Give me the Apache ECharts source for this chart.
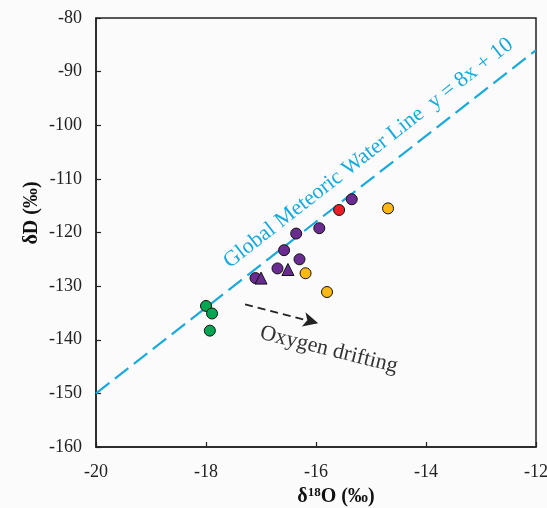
<!DOCTYPE html>
<html>
<head>
<meta charset="utf-8"/>
<title>δD vs δ18O</title>
<script src="https://cdn.jsdelivr.net/npm/echarts@6/dist/echarts.min.js"></script>
<style>
  html, body { margin: 0; padding: 0; background: #fbfbfb; }
  #main { width: 547px; height: 508px; }
</style>
</head>
<body>
<div id="main"></div>
<script type="text/javascript">
    // values
    var purpleX = [-15.35, -15.94, -16.36, -16.58, -16.30, -16.70, -17.10];
    var purpleY = [-113.8, -119.2, -120.2, -123.3, -125.0, -126.7, -128.5];
    var triangleX = [-16.51, -17.00];
    var triangleY = [-126.9, -128.5];
    var redX = [-15.58];
    var redY = [-115.8];
    var orangeX = [-14.69, -16.19, -15.80];
    var orangeY = [-115.5, -127.6, -131.1];
    var greenX = [-18.00, -17.89, -17.93];
    var greenY = [-133.7, -135.1, -138.3];
    // GMWL end points, y = 8x + 10
    var gmwlX = [-20, -12];
    var gmwlY = [-150, -86];
    // arrow "Oxygen drifting"
    var arrowX = [-17.29, -15.96];
    var arrowY = [-133.4, -136.9];

    var serif = 'Liberation Serif, Times New Roman, serif';

    var pairs = function (xs, ys) {
        return xs.map(function (x, i) { return [x, ys[i]]; });
    };
    var dotSeries = function (name, xs, ys, color, symbol, size) {
        return {
            name: name,
            type: 'scatter',
            symbol: symbol || 'circle',
            symbolSize: size || 11,
            data: pairs(xs, ys),
            itemStyle: { color: color, opacity: 1, borderColor: '#111', borderWidth: 1 },
            z: 5
        };
    };

    var myChart = echarts.init(document.getElementById('main'));
    var option = {
        backgroundColor: '#fbfbfb',
        animation: false,
        grid: {
            left: 96, right: 11, top: 18, bottom: 61,
            outerBoundsMode: 'none',
            show: true, borderColor: '#222', borderWidth: 1.5
        },
        xAxis: {
            type: 'value',
            min: -20, max: -12, interval: 2,
            name: '{a|δ}{s|18}{a|O (‰)}',
            nameLocation: 'middle',
            nameGap: 38,
            nameTextStyle: {
                padding: [0, 0, 0, 40],
                rich: {
                    a: { fontFamily: serif, fontSize: 20, fontWeight: 'bold', color: '#111', lineHeight: 22 },
                    s: { fontFamily: serif, fontSize: 13, fontWeight: 'bold', color: '#111', verticalAlign: 'top', lineHeight: 13 }
                }
            },
            axisLine: { lineStyle: { color: '#222', width: 1.5 } },
            axisTick: { inside: true, length: 5, lineStyle: { color: '#222', width: 1.2 } },
            axisLabel: { fontFamily: serif, fontSize: 18, color: '#222', margin: 16 },
            splitLine: { show: false }
        },
        yAxis: {
            type: 'value',
            min: -160, max: -80, interval: 10,
            axisLine: { show: true, lineStyle: { color: '#222', width: 1.5 } },
            axisTick: { show: true, inside: true, length: 5, lineStyle: { color: '#222', width: 1.2 } },
            axisLabel: { fontFamily: serif, fontSize: 18, color: '#222', margin: 14 },
            splitLine: { show: false }
        },
        graphic: [
            {
                type: 'text',
                x: 32, y: 213,
                rotation: Math.PI / 2,
                style: {
                    text: 'δD (‰)',
                    font: 'bold 20px ' + serif,
                    fill: '#111',
                    align: 'center',
                    verticalAlign: 'middle'
                }
            },
            {
                type: 'text',
                x: 263, y: 322,
                rotation: -14 * Math.PI / 180,
                style: {
                    text: 'Oxygen drifting',
                    font: '22px ' + serif,
                    fill: '#333'
                }
            }
        ],
        series: [
            {
                name: 'GMWL',
                type: 'line',
                data: pairs(gmwlX, gmwlY),
                symbol: 'none',
                lineStyle: { color: '#1aa9dc', width: 2.2, type: [17, 7] },
                markLine: {
                    silent: true,
                    symbol: ['none', 'none'],
                    lineStyle: { color: 'rgba(0,0,0,0)', width: 0 },
                    label: {
                        show: true,
                        position: 'insideEndTop',
                        distance: 11,
                        formatter: 'Global Meteoric Water Line  y = 8x + 10',
                        fontFamily: serif,
                        fontSize: 22,
                        color: '#1aa9dc',
                        padding: [0, 4, 0, 0]
                    },
                    data: [[{ coord: [gmwlX[0], gmwlY[0]] }, { coord: [gmwlX[1], gmwlY[1]] }]]
                },
                z: 2
            },
            {
                name: 'arrow',
                type: 'line',
                data: [],
                markLine: {
                    silent: true,
                    symbol: ['none', 'arrow'],
                    symbolSize: [11, 15],
                    lineStyle: { color: '#222', width: 1.8, type: [8, 5] },
                    label: { show: false },
                    data: [[{ coord: [arrowX[0], arrowY[0]] }, { coord: [arrowX[1], arrowY[1]] }]]
                }
            },
            dotSeries('green', greenX, greenY, '#00a651'),
            dotSeries('orange', orangeX, orangeY, '#fdb913'),
            dotSeries('red', redX, redY, '#ee1c25'),
            dotSeries('purple', purpleX, purpleY, '#6a2c91'),
            dotSeries('purple triangle', triangleX, triangleY, '#6a2c91', 'triangle', 12)
        ]
    };
    myChart.setOption(option);
</script>
</body>
</html>
